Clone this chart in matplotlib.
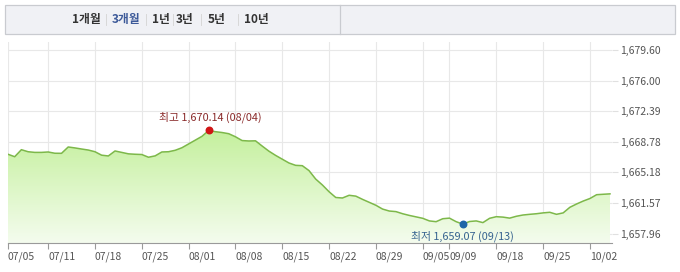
import matplotlib
matplotlib.use("Agg")
import matplotlib.pyplot as plt
from matplotlib.patches import Rectangle
import numpy as np

plt.rcParams['font.family'] = ['Noto Sans CJK KR', 'DejaVu Sans']

# daily closes, index 0 = 07/05
values = [
    1667.33, 1667.04, 1667.87, 1667.63, 1667.55, 1667.55, 1667.60, 1667.45, 1667.44, 1668.19,
    1668.08, 1667.95, 1667.83, 1667.63, 1667.22, 1667.13, 1667.72, 1667.55, 1667.38, 1667.33,
    1667.30, 1666.98, 1667.14, 1667.60, 1667.63, 1667.80, 1668.10, 1668.55, 1669.00, 1669.45,
    1670.14, 1670.00, 1669.90, 1669.76, 1669.40, 1668.95, 1668.90, 1668.92, 1668.30, 1667.70,
    1667.20, 1666.75, 1666.30, 1666.02, 1665.98, 1665.40, 1664.40, 1663.70, 1662.90, 1662.22,
    1662.16, 1662.48, 1662.38, 1662.00, 1661.65, 1661.30, 1660.85, 1660.62, 1660.55, 1660.30,
    1660.10, 1659.93, 1659.76, 1659.45, 1659.36, 1659.71, 1659.78, 1659.36, 1659.07, 1659.38,
    1659.45, 1659.25, 1659.76, 1659.95, 1659.90, 1659.78, 1660.00, 1660.15, 1660.23, 1660.30,
    1660.40, 1660.47, 1660.23, 1660.40, 1661.06, 1661.45, 1661.80, 1662.10, 1662.55, 1662.60,
    1662.65,
]
tick_pos = [0, 6, 13, 20, 27, 34, 41, 48, 55, 62, 66, 73, 80, 87]
tick_labels = ["07/05", "07/11", "07/18", "07/25", "08/01", "08/08", "08/15", "08/22",
               "08/29", "09/05", "09/09", "09/18", "09/25", "10/02"]
y_ticks = [1657.96, 1661.57, 1665.18, 1668.78, 1672.39, 1676.00, 1679.60]
periods = ["1개월", "3개월", "1년", "3년", "5년", "10년"]
period_x = [86, 126, 161, 185, 217, 256]

max_i, max_v, max_date = 30, 1670.14, "08/04"
min_i, min_v, min_date = 68, 1659.07, "09/13"

W, H = 680, 272
fig = plt.figure(figsize=(W / 100, H / 100), dpi=100)

# header bar
hdr = fig.add_axes([0, 0, 1, 1])
hdr.set_xlim(0, W)
hdr.set_ylim(H, 0)
hdr.axis("off")
hdr.add_patch(Rectangle((5, 4.5), 670, 29.5, facecolor="#f0f1f5", edgecolor="#c9cbd0", lw=0.9))
hdr.plot([340, 340], [4.5, 34], color="#c9cbd0", lw=0.9)
seps = [106, 146, 173, 201, 238]
for lab, px in zip(periods, period_x):
    hdr.text(px, 19.5, lab, ha="center", va="center", fontsize=8.5, fontweight="bold",
             color="#3d5a99" if lab == "3개월" else "#333333")
for sx in seps:
    hdr.plot([sx, sx], [14, 25], color="#d8d8d8", lw=0.7)

# chart area
left, right, top, bottom = 8, 612, 42, 243
ax = fig.add_axes([left / W, 1 - bottom / H, (right - left) / W, (bottom - top) / H])
x = np.arange(len(values))
ymin, ymax = 1656.84, 1680.6
ax.set_xlim(0, 90.3)
ax.set_ylim(ymin, ymax)

poly = ax.fill_between(x, values, ymin, color="none", lw=0)
grad = np.linspace(1, 0, 256).reshape(-1, 1)
cmap = matplotlib.colors.LinearSegmentedColormap.from_list("g", ["#f4fcee", "#c4f09c"])
img = ax.imshow(grad, cmap=cmap, aspect="auto", extent=[0, 90.3, ymin, 1670.3],
                origin="upper", zorder=1)
img.set_clip_path(poly.get_paths()[0], transform=ax.transData)
ax.plot(x, values, color="#7db84a", lw=1.1, zorder=3)

ax.scatter([max_i], [max_v], color="#d01515", s=22, zorder=4)
ax.scatter([min_i], [min_v], color="#1f66a8", s=22, zorder=4)
ax.text(max_i + 0.2, max_v + 0.9, f"최고 {max_v:,.2f} ({max_date})", ha="center", va="bottom",
        fontsize=7.8, color="#8a2a2a", zorder=5)
ax.text(min_i, min_v - 0.8, f"최저 {min_v:,.2f} ({min_date})", ha="center", va="top",
        fontsize=7.8, color="#35628f", zorder=5)

ax.set_xticks(tick_pos)
ax.set_xticklabels(tick_labels, ha="left")
ax.set_yticks(y_ticks)
ax.set_yticklabels([f"{v:,.2f}" for v in y_ticks])
ax.yaxis.tick_right()
ax.grid(True, color="#e8e8e8", lw=0.8, zorder=0)
ax.set_axisbelow(True)
for s in ["top", "right", "left"]:
    ax.spines[s].set_visible(False)
ax.spines["bottom"].set_color("#9a9a9a")
ax.tick_params(axis="x", length=4, color="#9a9a9a", labelsize=7.5, labelcolor="#555555", pad=2)
ax.tick_params(axis="y", length=4, color="#e0e0e0", labelsize=7.5, labelcolor="#555555", pad=2)

fig.savefig("out.png", dpi=100)
